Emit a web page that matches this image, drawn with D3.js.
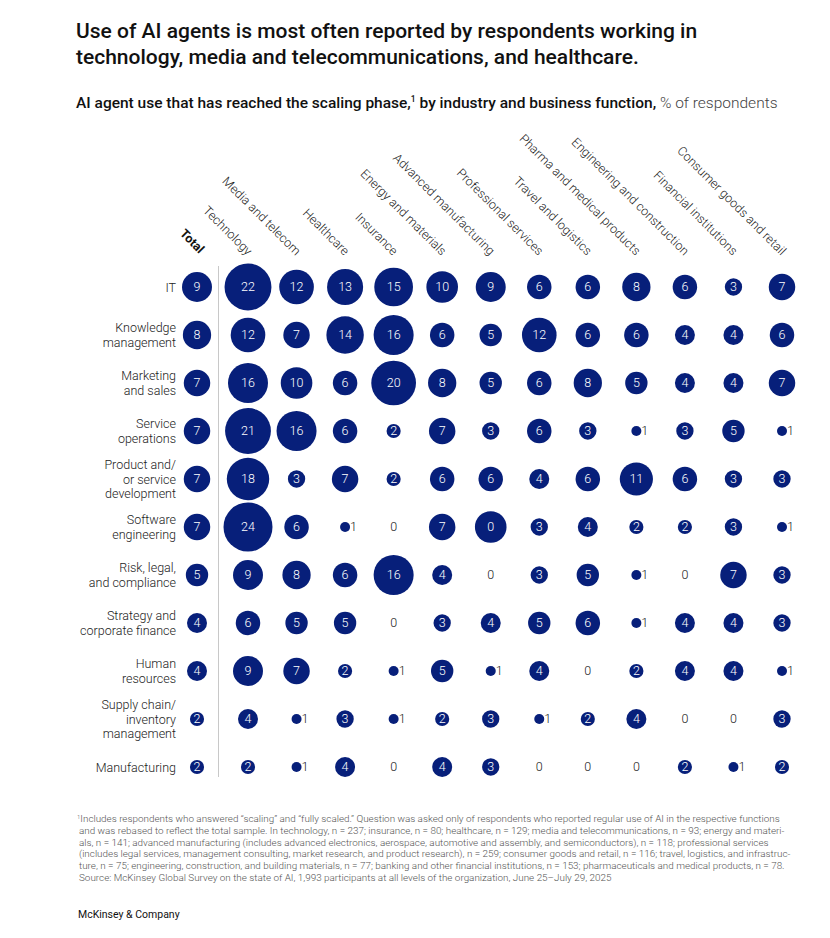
<!DOCTYPE html>
<html>
<head>
<meta charset="utf-8">
<script src="https://cdn.jsdelivr.net/npm/d3@7"></script>
<style>
  html, body { margin: 0; padding: 0; background: #fff; }
  svg { display: block; font-family: Roboto, "Liberation Sans", sans-serif; }
</style>
</head>
<body>
<svg id="chart" width="830" height="938"></svg>
<script>
// ---------- DATA ----------
const industries = [
  "Technology", "Media and telecom", "Healthcare", "Insurance",
  "Energy and materials", "Advanced manufacturing", "Professional services",
  "Travel and logistics", "Pharma and medical products",
  "Engineering and construction", "Financial institutions", "Consumer goods and retail"
];
const functions = [
  ["IT"],
  ["Knowledge", "management"],
  ["Marketing", "and sales"],
  ["Service", "operations"],
  ["Product and/", "or service", "development"],
  ["Software", "engineering"],
  ["Risk, legal,", "and compliance"],
  ["Strategy and", "corporate finance"],
  ["Human", "resources"],
  ["Supply chain/", "inventory", "management"],
  ["Manufacturing"]
];
const totals = [9, 8, 7, 7, 7, 7, 5, 4, 4, 2, 2];
const values = [
  [22, 12, 13, 15, 10, 9, 6, 6, 8, 6, 3, 7],
  [12, 7, 14, 16, 6, 5, 12, 6, 6, 4, 4, 6],
  [16, 10, 6, 20, 8, 5, 6, 8, 5, 4, 4, 7],
  [21, 16, 6, 2, 7, 3, 6, 3, 1, 3, 5, 1],
  [18, 3, 7, 2, 6, 6, 4, 6, 11, 6, 3, 3],
  [24, 6, 1, 0, 7, 10, 3, 4, 2, 2, 3, 1],
  [9, 8, 6, 16, 4, 0, 3, 5, 1, 0, 7, 3],
  [6, 5, 5, 0, 3, 4, 5, 6, 1, 4, 4, 3],
  [9, 7, 2, 1, 5, 1, 4, 0, 2, 4, 4, 1],
  [4, 1, 3, 1, 2, 3, 1, 2, 4, 0, 0, 3],
  [2, 1, 4, 0, 4, 3, 0, 0, 0, 2, 1, 2]
];
// label shown in the reference differs from bubble size in one cell (printed as "0")
const shownLabelOverrides = { "5-5": "0" };

const titleLines = [
  "Use of AI agents is most often reported by respondents working in",
  "technology, media and telecommunications, and healthcare."
];
const footnoteLines = [
  "Includes respondents who answered “scaling” and “fully scaled.” Question was asked only of respondents who reported regular use of AI in the respective functions",
  "and was rebased to reflect the total sample. In technology, n = 237; insurance, n = 80; healthcare, n = 129; media and telecommunications, n = 93; energy and materi-",
  "als, n = 141; advanced manufacturing (includes advanced electronics, aerospace, automotive and assembly, and semiconductors), n = 118; professional services",
  "(includes legal services, management consulting, market research, and product research), n = 259; consumer goods and retail, n = 116; travel, logistics, and infrastruc-",
  "ture, n = 75; engineering, construction, and building materials, n = 77; banking and other financial institutions, n = 153; pharmaceuticals and medical products, n = 78.",
  "Source: McKinsey Global Survey on the state of AI, 1,993 participants at all levels of the organization, June 25–July 29, 2025"
];

// ---------- DRAW ----------
const NAVY = "#071f7a";
const svg = d3.select("#chart");

// title
svg.append("g").selectAll("text").data(titleLines).join("text")
  .attr("x", 76).attr("y", (d, i) => 38 + i * 25.5)
  .attr("font-size", 21).attr("font-weight", 500).attr("fill", "#111")
  .text(d => d);

// subtitle
const sub = svg.append("text").attr("x", 76).attr("y", 108)
  .attr("font-size", 15.5).attr("fill", "#111");
sub.append("tspan").attr("font-weight", 500).text("AI agent use that has reached the scaling phase,");
sub.append("tspan").attr("font-size", 8.5).attr("dy", -6).attr("font-weight", 500).text("1");
sub.append("tspan").attr("dy", 6).attr("font-weight", 500).text(" by industry and business function,");
sub.append("tspan").attr("font-weight", 300).attr("fill", "#444").text(" % of respondents");

// scales
const x = d3.scalePoint().domain(industries).range([248, 782]);
const xTotal = 197;
const rowKeys = functions.map(f => f.join(" "));
const y = d3.scalePoint().domain(rowKeys).range([287, 767]);
const r = d3.scaleSqrt().domain([0, 24]).range([0, 24.5]);

// column headers
svg.append("text")
  .attr("transform", `translate(${xTotal + 2},254) rotate(45)`)
  .attr("text-anchor", "end").attr("font-size", 12.5).attr("font-weight", 700).attr("fill", "#111")
  .text("Total");
svg.append("g").selectAll("text").data(industries).join("text")
  .attr("transform", d => `translate(${x(d) - 1},256) rotate(45)`)
  .attr("text-anchor", "end").attr("font-size", 12.5).attr("font-weight", 300).attr("fill", "#222")
  .text(d => d);

// separator
svg.append("line").attr("x1", 218.5).attr("x2", 218.5).attr("y1", 266).attr("y2", 777)
  .attr("stroke", "#c8c8c8").attr("stroke-width", 1);

// row labels
const rowG = svg.append("g").selectAll("text").data(functions).join("text")
  .attr("text-anchor", "end").attr("font-size", 12.5).attr("font-weight", 300).attr("fill", "#222");
rowG.each(function(lines, i) {
  const cy = y(rowKeys[i]);
  const lh = 14.2;
  const start = cy - (lines.length - 1) * lh / 2 + 4.5;
  d3.select(this).selectAll("tspan").data(lines).join("tspan")
    .attr("x", 176).attr("y", (d, j) => start + j * lh).text(d => d);
});

// cells
const cells = [];
functions.forEach((f, i) => {
  cells.push({ row: rowKeys[i], cx: xTotal, v: totals[i], label: String(totals[i]) });
  industries.forEach((ind, j) => {
    const v = values[i][j];
    const ov = shownLabelOverrides[i + "-" + j];
    cells.push({ row: rowKeys[i], cx: x(ind), v, label: ov !== undefined ? ov : String(v) });
  });
});

const cg = svg.append("g").selectAll("g").data(cells).join("g")
  .attr("transform", d => `translate(${d.cx},${y(d.row)})`);
cg.filter(d => d.v > 0).append("circle").attr("r", d => r(d.v)).attr("fill", NAVY);
cg.append("text")
  .attr("x", d => d.v === 1 ? 5 : 0)
  .attr("y", 4.3)
  .attr("text-anchor", d => d.v === 1 ? "start" : "middle")
  .attr("font-size", 12.5).attr("font-weight", 300)
  .attr("fill", d => d.v <= 1 ? "#222" : "#fff")
  .text(d => d.label);

// footnote
const fn = svg.append("g").attr("font-size", 9.9).attr("font-weight", 300).attr("fill", "#555");
footnoteLines.forEach((line, i) => {
  const t = fn.append("text").attr("x", i === 0 ? 77 : 79).attr("y", 822 + i * 11.8);
  if (i === 0) {
    t.append("tspan").attr("font-size", 6).attr("dy", -3).text("1");
    t.append("tspan").attr("dy", 3).text(line);
  } else {
    t.text(line);
  }
});

svg.append("text").attr("x", 78).attr("y", 918).attr("font-size", 10.5)
  .attr("fill", "#111").text("McKinsey & Company");
</script>
</body>
</html>
